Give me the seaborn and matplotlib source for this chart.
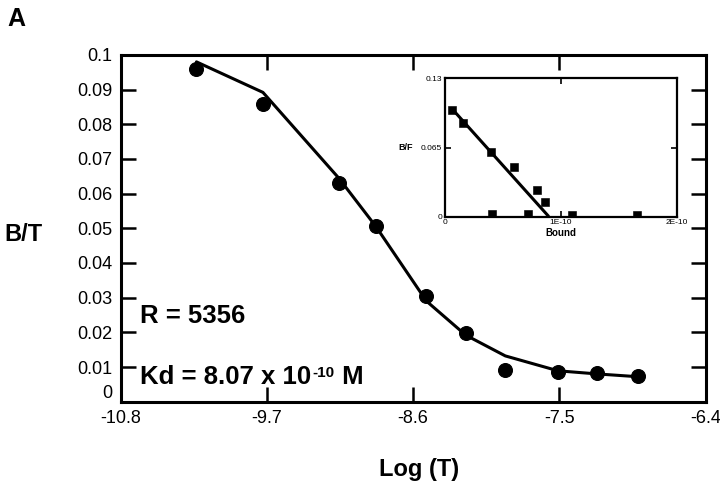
import numpy as np
import pandas as pd
import matplotlib
matplotlib.use('Agg')
import matplotlib.pyplot as plt
import seaborn as sns

# main binding curve
log_t = [-10.23, -9.73, -9.16, -8.88, -8.50, -8.205, -7.907, -7.51, -7.215, -6.91]
bt_obs = [0.0959, 0.0858, 0.0632, 0.0507, 0.0306, 0.0199, 0.0091, 0.0087, 0.0082, 0.0074]
bt_fit = [0.0980, 0.0892, 0.0645, 0.0505, 0.0290, 0.0192, 0.0132, 0.0089, 0.0080, 0.0072]

# scatchard inset
bound = [0.058e-10, 0.158e-10, 0.397e-10, 0.599e-10, 0.797e-10, 0.863e-10,
         0.41e-10, 0.714e-10, 1.10e-10, 1.66e-10]
bf = [0.1002, 0.0877, 0.0611, 0.047, 0.025, 0.0135, 0.0025, 0.0025, 0.0016, 0.0016]
line_bound = [0.058e-10, 0.892e-10]
line_bf = [0.1018, 0.0006]

x_ticks = [-10.8, -9.7, -8.6, -7.5, -6.4]
x_labels = ['-10.8', '-9.7', '-8.6', '-7.5', '-6.4']
y_ticks = [0, 0.01, 0.02, 0.03, 0.04, 0.05, 0.06, 0.07, 0.08, 0.09, 0.1]
y_labels = ['0', '0.01', '0.02', '0.03', '0.04', '0.05', '0.06', '0.07', '0.08', '0.09', '0.1']

sns.set_style('ticks')
plt.rcParams['font.family'] = ['Liberation Sans', 'DejaVu Sans']
plt.rcParams['text.color'] = 'black'
plt.rcParams['axes.labelcolor'] = 'black'

df = pd.DataFrame({'logT': log_t, 'obs': bt_obs, 'fit': bt_fit})
ins = pd.DataFrame({'bound': bound, 'bf': bf})
ins_line = pd.DataFrame({'bound': line_bound, 'bf': line_bf})

fig = plt.figure(figsize=(7.2, 4.87), dpi=100)
ax = fig.add_axes([0.1676, 0.1752, 0.8125, 0.712])

sns.lineplot(data=df, x='logT', y='fit', color='black', linewidth=2.2, ax=ax)
sns.scatterplot(data=df, x='logT', y='obs', color='black', s=100, edgecolor='black', ax=ax, zorder=3)

ax.set_xlim(-10.8, -6.4)
ax.set_ylim(0, 0.1)
ax.set_xticks(x_ticks)
ax.set_xticklabels(x_labels)
ax.set_yticks(y_ticks)
ax.set_yticklabels(y_labels)
ax.tick_params(direction='in', length=11, width=1.8, labelsize=13, pad=6,
               top=True, right=True, colors='black')
ax.get_yticklabels()[0].set_va('bottom')
for sp in ax.spines.values():
    sp.set_linewidth(2.2)
    sp.set_color('black')

ax.set_xlabel('Log (T)', fontsize=17, fontweight='bold')
ax.xaxis.set_label_coords(0.51, -0.197)
ax.xaxis.label.set_va('center')
ax.set_ylabel('B/T', fontsize=17, fontweight='bold', rotation=0, va='center', ha='center')
ax.yaxis.set_label_coords(-0.167, 0.481)

ax.text(0.033, 0.247, 'R = 5356', transform=ax.transAxes, fontsize=18.5,
        fontweight='bold', va='center')
kd = ax.text(0.033, 0.07, 'Kd = 8.07 x 10', transform=ax.transAxes,
             fontsize=18.5, fontweight='bold', va='center')
sup = ax.annotate('-10', xy=(1, 0.5), xycoords=kd, xytext=(1, 0), textcoords='offset points',
                  fontsize=11, fontweight='bold', va='baseline', ha='left')
ax.annotate(' M', xy=(1, 0.5), xycoords=(sup, kd), fontsize=18.5, fontweight='bold',
            va='center', ha='left')

fig.text(0.01, 0.96, 'A', fontsize=18, fontweight='bold', va='center')

# inset
axi = fig.add_axes([0.618, 0.555, 0.322, 0.284])
sns.lineplot(data=ins_line, x='bound', y='bf', color='black', linewidth=2.2, ax=axi)
sns.scatterplot(data=ins, x='bound', y='bf', color='black', marker='s', s=28,
                edgecolor='black', ax=axi, zorder=3)
axi.set_xlim(0, 2e-10)
axi.set_ylim(0, 0.13)
axi.set_xticks([0, 1e-10, 2e-10])
axi.set_xticklabels(['0', '1E-10', '2E-10'])
axi.set_yticks([0, 0.065, 0.13])
axi.set_yticklabels(['0', '0.065', '0.13'])
axi.tick_params(direction='in', length=4, width=1.2, labelsize=6, pad=2,
                top=True, right=True, colors='black')
for sp in axi.spines.values():
    sp.set_linewidth(1.6)
    sp.set_color('black')
axi.set_xlabel('Bound', fontsize=7, fontweight='bold', labelpad=1)
axi.set_ylabel('B/F', fontsize=6.5, fontweight='bold', rotation=0, va='center', ha='right')
axi.yaxis.set_label_coords(-0.14, 0.5)

fig.savefig('out.png', dpi=100)
